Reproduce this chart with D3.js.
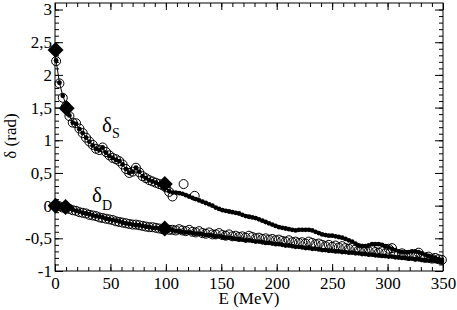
<!DOCTYPE html>
<html>
<head>
<meta charset="utf-8">
<script src="https://cdn.jsdelivr.net/npm/d3@7"></script>
<style>
body { margin: 0; background: #fff; }
svg { display: block; }
text { font-family: "Liberation Serif", "Times New Roman", serif; fill: #000; }
</style>
</head>
<body>
<div id="chart"></div>
<script>
// energy grid (MeV)
var eGrid = [1,4,7,10,13,16,19,22,25,28,31,34,37,40,43,46,49,52,55,58,
	61,64,67,70,73,76,79,82,85,88,91,94,97,100,103,106,109,112,115,118,
	121,124,127,130,133,136,139,142,145,148,151,154,157,160,163,166,169,172,175,178,
	181,184,187,190,193,196,199,202,205,208,211,214,217,220,223,226,229,232,235,238,
	241,244,247,250,253,256,259,262,265,268,271,274,277,280,283,286,289,292,295,298,
	301,304,307,310,313,316,319,322,325,328,331,334,337,340,343,346,349];

// delta_S, small filled dots
var sDot = [2.22,1.88,1.68,1.55,1.38,1.27,1.25,1.17,1.11,1.04,
	0.98,0.92,0.87,0.85,0.89,0.81,0.76,0.73,0.70,0.68,
	0.63,0.56,0.50,0.52,0.58,0.52,0.45,0.42,0.39,0.37,
	0.35,0.33,0.31,0.28,0.22,0.20,0.20,0.19,0.18,0.16,
	0.14,0.12,0.10,0.08,0.06,0.04,0.02,0.00,-0.03,-0.05,
	-0.07,-0.08,-0.09,-0.10,-0.11,-0.12,-0.14,-0.16,-0.17,-0.18,
	-0.19,-0.21,-0.23,-0.25,-0.27,-0.29,-0.31,-0.33,-0.34,-0.35,
	-0.36,-0.37,-0.38,-0.37,-0.37,-0.37,-0.37,-0.38,-0.40,-0.42,
	-0.44,-0.45,-0.46,-0.46,-0.47,-0.48,-0.49,-0.51,-0.53,-0.55,
	-0.58,-0.61,-0.62,-0.62,-0.61,-0.59,-0.59,-0.59,-0.60,-0.62,
	-0.64,-0.66,-0.68,-0.70,-0.71,-0.71,-0.71,-0.70,-0.70,-0.71,
	-0.73,-0.75,-0.77,-0.79,-0.80,-0.82,-0.83];

// delta_S, open circles
var sCircE = [1,4,7,10,13,16,19,22,25,28,31,34,37,40,43,46,49,52,55,58,
	61,64,67,70,73,76,79,82,85,88,91,94,97,100,103,106,116,126];
var sCirc = [2.21,1.87,1.65,1.52,1.37,1.27,1.26,1.18,1.11,1.04,
	0.98,0.93,0.87,0.85,0.89,0.82,0.77,0.73,0.71,0.68,
	0.63,0.56,0.50,0.52,0.58,0.51,0.45,0.42,0.39,0.37,
	0.35,0.33,0.31,0.28,0.21,0.14,0.33,0.15];

// delta_D, small filled dots
var dDot = [0.00,-0.01,-0.02,-0.04,-0.05,-0.06,-0.08,-0.09,-0.11,-0.12,
	-0.13,-0.15,-0.16,-0.17,-0.18,-0.20,-0.21,-0.22,-0.23,-0.24,
	-0.26,-0.27,-0.28,-0.29,-0.30,-0.30,-0.31,-0.32,-0.33,-0.34,
	-0.34,-0.35,-0.36,-0.37,-0.37,-0.38,-0.39,-0.39,-0.40,-0.41,
	-0.41,-0.42,-0.43,-0.43,-0.44,-0.45,-0.45,-0.46,-0.47,-0.47,
	-0.48,-0.49,-0.49,-0.50,-0.51,-0.51,-0.52,-0.53,-0.53,-0.54,
	-0.55,-0.55,-0.56,-0.57,-0.57,-0.58,-0.59,-0.59,-0.60,-0.61,
	-0.61,-0.62,-0.63,-0.63,-0.64,-0.65,-0.65,-0.66,-0.66,-0.67,
	-0.68,-0.68,-0.69,-0.69,-0.70,-0.70,-0.71,-0.71,-0.72,-0.72,
	-0.73,-0.73,-0.74,-0.74,-0.75,-0.75,-0.76,-0.76,-0.77,-0.77,
	-0.78,-0.78,-0.79,-0.79,-0.80,-0.80,-0.81,-0.81,-0.82,-0.82,
	-0.83,-0.83,-0.84,-0.84,-0.85,-0.85,-0.86];

// delta_D, open circles
var dCirc = [0.01,-0.01,-0.03,-0.04,-0.05,-0.07,-0.08,-0.10,-0.11,-0.12,
	-0.14,-0.15,-0.16,-0.18,-0.19,-0.20,-0.21,-0.22,-0.24,-0.25,
	-0.26,-0.27,-0.28,-0.29,-0.29,-0.30,-0.31,-0.32,-0.33,-0.33,
	-0.34,-0.35,-0.36,-0.36,
	-0.37,-0.37,-0.38,-0.36,-0.38,-0.39,-0.37,-0.40,-0.41,-0.39,
	-0.42,-0.43,-0.41,-0.44,-0.44,-0.42,-0.45,-0.46,-0.44,-0.47,
	-0.46,-0.48,-0.47,-0.49,-0.46,-0.48,-0.50,-0.49,-0.51,-0.50,
	-0.52,-0.51,-0.53,-0.52,-0.54,-0.55,-0.53,-0.56,-0.55,-0.57,
	-0.56,-0.58,-0.55,-0.57,-0.59,-0.58,-0.60,-0.62,-0.60,-0.63,
	-0.61,-0.64,-0.62,-0.65,-0.66,-0.64,-0.67,-0.68,-0.66,-0.69,
	-0.70,-0.68,-0.71,-0.72,-0.70,-0.73,-0.66,-0.65,-0.74,-0.75,
	-0.73,-0.76,-0.77,-0.75,-0.78,-0.72,-0.79,-0.80,-0.78,-0.81,
	-0.80,-0.82,-0.83];

// big diamonds
var sDiamE = [0.5, 10.5, 99],
	sDiam = [2.38, 1.49, 0.33],
	dDiamE = [0.5, 9.5, 99],
	dDiam = [0.0, -0.02, -0.35];

var xTicks = [0,50,100,150,200,250,300,350],
	yTicks = [-1,-0.5,0,0.5,1,1.5,2,2.5,3],
	yTickLabels = ["-1","-0,5","0","0,5","1","1,5","2","2,5","3"];

var w = 457, h = 310,
	pLeft = 55, pRight = 443, pTop = 3, pBottom = 271;

var x = d3.scaleLinear().domain([0, 350]).range([pLeft, pRight]),
	y = d3.scaleLinear().domain([-1, 3.1]).range([pBottom, pTop]);

var svg = d3.select("#chart").append("svg")
	.attr("width", w)
	.attr("height", h);

// minor ticks on all four sides
var xMinor = d3.range(0, 351, 10),
	yMinor = d3.range(-10, 31, 1).map(function(v) { return v / 10; });

function tickAxis(axis, tf, vals, size) {
	var g = svg.append("g").attr("transform", tf)
		.call(axis.tickValues(vals).tickSize(size).tickSizeOuter(0).tickFormat(""));
	g.select(".domain").remove();
	g.selectAll("line").attr("stroke", "#000");
	return g;
}
tickAxis(d3.axisBottom(x), "translate(0," + pBottom + ")", xMinor, -4);
tickAxis(d3.axisTop(x), "translate(0," + pTop + ")", xMinor, -4);
tickAxis(d3.axisLeft(y), "translate(" + pLeft + ",0)", yMinor, -4);
tickAxis(d3.axisRight(y), "translate(" + pRight + ",0)", yMinor, -4);
tickAxis(d3.axisTop(x), "translate(0," + pTop + ")", xTicks, -7);
tickAxis(d3.axisRight(y), "translate(" + pRight + ",0)", yTicks, -8);

// labelled major ticks
var gx = svg.append("g").attr("transform", "translate(0," + pBottom + ")")
	.call(d3.axisBottom(x).tickValues(xTicks).tickSize(-7).tickSizeOuter(0).tickPadding(6));
gx.select(".domain").remove();
gx.selectAll("line").attr("stroke", "#000");
gx.selectAll("text").attr("font-size", 17).attr("font-family", "Liberation Serif");

var gy = svg.append("g").attr("transform", "translate(" + pLeft + ",0)")
	.call(d3.axisLeft(y).tickValues(yTicks).tickSize(-8).tickSizeOuter(0).tickPadding(3)
		.tickFormat(function(d, i) { return yTickLabels[i]; }));
gy.select(".domain").remove();
gy.selectAll("line").attr("stroke", "#000");
gy.selectAll("text").attr("font-size", 17).attr("font-family", "Liberation Serif");

// frame
svg.append("rect")
	.attr("x", pLeft).attr("y", pTop)
	.attr("width", pRight - pLeft).attr("height", pBottom - pTop)
	.attr("fill", "none").attr("stroke", "#000").attr("stroke-width", 1);

// thin lines through the dots
var line = d3.line()
	.x(function(d) { return x(d[0]); })
	.y(function(d) { return y(d[1]); });
[sDot, dDot].forEach(function(vals) {
	svg.append("path")
		.datum(eGrid.map(function(e, i) { return [e, vals[i]]; }))
		.attr("d", line)
		.attr("fill", "none")
		.attr("stroke", "#000")
		.attr("stroke-width", 1);
});

// open circles
function circles(es, vals) {
	svg.append("g").selectAll("circle")
		.data(es.map(function(e, i) { return [e, vals[i]]; }))
		.enter().append("circle")
		.attr("cx", function(d) { return x(d[0]); })
		.attr("cy", function(d) { return y(d[1]); })
		.attr("r", 4.5)
		.attr("fill", "none")
		.attr("stroke", "#000")
		.attr("stroke-width", 1);
}
circles(sCircE, sCirc);
circles(eGrid, dCirc);

// filled dots
function dots(es, vals) {
	svg.append("g").selectAll("circle")
		.data(es.map(function(e, i) { return [e, vals[i]]; }))
		.enter().append("circle")
		.attr("cx", function(d) { return x(d[0]); })
		.attr("cy", function(d) { return y(d[1]); })
		.attr("r", 2.4)
		.attr("fill", "#000");
}
dots(eGrid, sDot);
dots(eGrid, dDot);

// diamonds
function diamonds(es, vals) {
	svg.append("g").selectAll("path")
		.data(es.map(function(e, i) { return [e, vals[i]]; }))
		.enter().append("path")
		.attr("transform", function(d) { return "translate(" + x(d[0]) + "," + y(d[1]) + ")"; })
		.attr("d", "M0,-8L8,0L0,8L-8,0Z")
		.attr("fill", "#000");
}
diamonds(sDiamE, sDiam);
diamonds(dDiamE, dDiam);

// series labels
var ls = svg.append("text").attr("x", 102).attr("y", 132).attr("font-size", 21);
ls.append("tspan").text("δ");
ls.append("tspan").attr("font-size", 14).attr("dy", 6).text("S");

var ld = svg.append("text").attr("x", 92).attr("y", 202).attr("font-size", 21);
ld.append("tspan").text("δ");
ld.append("tspan").attr("font-size", 14).attr("dy", 8).text("D");

// axis titles
svg.append("text")
	.attr("x", (pLeft + pRight) / 2).attr("y", 304)
	.attr("text-anchor", "middle")
	.attr("font-size", 17)
	.text("E (MeV)");

svg.append("text")
	.attr("transform", "translate(16,136) rotate(-90)")
	.attr("text-anchor", "middle")
	.attr("font-size", 17)
	.text("δ (rad)");
</script>
</body>
</html>
